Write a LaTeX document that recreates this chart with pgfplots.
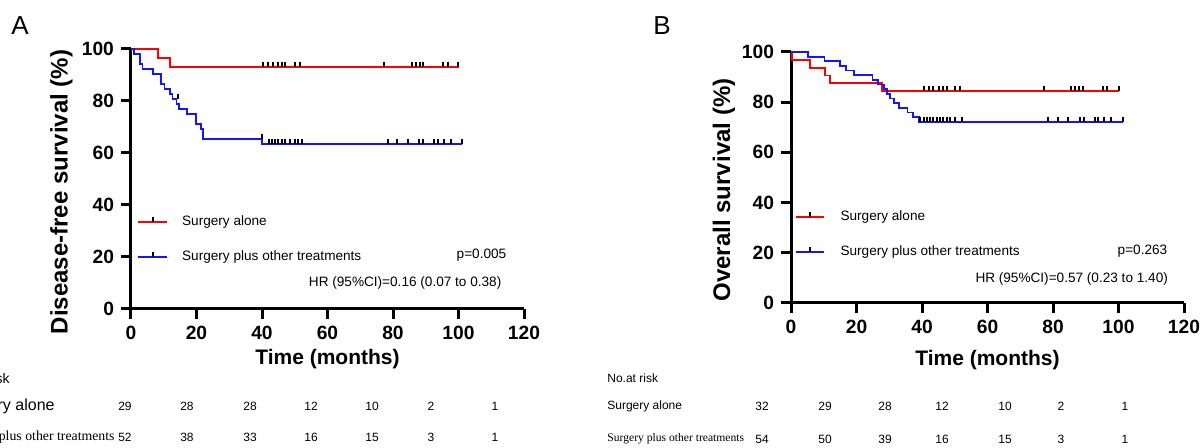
\documentclass[border=0pt]{standalone}
\usepackage{fontspec}
\setmainfont{Liberation Sans}
\newfontfamily\tnr{Liberation Serif}
\usepackage{pgfplots}
\pgfplotsset{compat=1.18}

\definecolor{kmred}{RGB}{255,0,0}
\definecolor{kmblue}{RGB}{20,20,255}

% pixel position of the reference (1200x448) -> picture coordinate
\newcommand{\pp}[2]{({(#1)*0.5pt},{(448-(#2))*0.5pt})}

\pgfplotsset{
  km/.style={
    scale only axis, anchor=south west,
    width=196.5pt,
    xmin=0, xmax=120, ymin=0, ymax=100,
    axis lines=left,
    axis line style={-, line width=1.5pt, black},
    xtick={0,20,...,120}, ytick={0,20,...,100},
    tick align=outside, major tick length=5pt,
    tick style={line width=1.5pt, black},
    tick label style={font=\fontsize{9.6}{11}\selectfont\bfseries},
    /pgf/number format/assume math mode=true,
    clip=false,
  },
  curve/.style={const plot, line width=0.9pt, mark=none},
  cens/.style={only marks, mark=|, mark size=1.25pt,
               mark options={draw=black, line width=1pt, yshift=1.25pt}},
}
\newcommand{\legfont}{\fontsize{6.8}{8}\selectfont}
\newcommand{\tabfont}{\fontsize{6}{7}\selectfont}

\begin{document}
\begin{tikzpicture}

%% ---------------- panel A: disease-free survival ----------------
\begin{axis}[km, at={(65.5pt,69.5pt)}, height=130pt]
\addplot[curve, draw=kmred] coordinates {
  (0,100)(8.3,96.55)(11.9,93.10)(100.2,93.10)
};
\addplot[curve, draw=kmblue] coordinates {
  (0,100)(1.0,98.08)(2.7,94.23)(3.5,92.31)(6.8,90.38)(9.2,86.54)
  (10.2,84.62)(11.9,82.69)(12.7,80.77)(13.9,78.85)(14.7,76.92)
  (17.0,75.00)(19.8,71.15)(21.4,69.23)(22.1,65.38)(40.1,63.46)(101.0,63.46)
};
% legend lines
\addplot[curve, draw=kmred] coordinates {(2.1,33.6)(11.1,33.6)};
\addplot[curve, draw=kmblue] coordinates {(2.1,20.1)(11.1,20.1)};
% censored
\addplot[cens] coordinates {
  (40.4,93.1)(41.9,93.1)(43.3,93.1)(45.0,93.1)(46.0,93.1)(47.0,93.1)
  (50.1,93.1)(51.6,93.1)(77.3,93.1)(85.7,93.1)(86.9,93.1)(88.1,93.1)
  (89.3,93.1)(95.4,93.1)(96.9,93.1)(99.9,93.1)
};
\addplot[cens] coordinates {
  (14.3,80.77)(39.9,65.38)
  (42,63.46)(43,63.46)(44,63.46)(45,63.46)(46,63.46)(47,63.46)(48.5,63.46)
  (50,63.46)(51,63.46)(52.1,63.46)(78.4,63.46)(81.1,63.46)(84.5,63.46)
  (88.0,63.46)(89.3,63.46)(92.5,63.46)(93.8,63.46)(95.7,63.46)(97.6,63.46)
  (101.0,63.46)
};
\addplot[cens] coordinates {(6.6,33.6)(6.6,20.1)};
\node[anchor=west, inner sep=0, font=\legfont] at (axis cs:15.5,33.6) {Surgery alone};
\node[anchor=west, inner sep=0, font=\legfont] at (axis cs:15.5,20.1) {Surgery plus other treatments};
\node[anchor=east, inner sep=0, font=\legfont] at (axis cs:114.7,20.8) {p=0.005};
\node[anchor=east, inner sep=0, font=\legfont] at (axis cs:113.2,10.1) {HR (95\%CI)=0.16 (0.07 to 0.38)};
\end{axis}

%% ---------------- panel B: overall survival ----------------
\begin{axis}[km, at={(395.5pt,72.5pt)}, height=125.5pt]
\addplot[curve, draw=kmred] coordinates {
  (0,100)(0.2,96.88)(5.7,93.75)(10.3,90.63)(11.8,87.50)(27.7,84.38)(100.0,84.38)
};
\addplot[curve, draw=kmblue] coordinates {
  (0,100)(5.3,98.15)(10.2,96.30)(15.0,94.44)(16.7,92.59)(19.2,90.74)
  (24.9,88.89)(26.5,87.04)(28.4,85.19)(29.2,83.33)(30.2,81.48)(31.5,79.63)
  (33.0,77.78)(35.6,75.93)(37.3,74.07)(39.1,72.22)(101.3,72.22)
};
\addplot[curve, draw=kmred] coordinates {(1.5,34.4)(10.2,34.4)};
\addplot[curve, draw=kmblue] coordinates {(1.5,20.4)(10.2,20.4)};
\addplot[cens] coordinates {
  (40.7,84.38)(42.2,84.38)(43.5,84.38)(45.3,84.38)(46.4,84.38)(47.5,84.38)
  (50.1,84.38)(51.6,84.38)(77.3,84.38)(85.5,84.38)(86.8,84.38)(88.0,84.38)
  (89.3,84.38)(95.2,84.38)(96.4,84.38)(100.0,84.38)
};
\addplot[cens] coordinates {
  (39.5,72.22)(40.5,72.22)(41.5,72.22)(42.5,72.22)(43.5,72.22)(44.5,72.22)
  (45.5,72.22)(46.5,72.22)(47.5,72.22)(48.5,72.22)(50.0,72.22)(52.1,72.22)
  (78.6,72.22)(81.6,72.22)(84.7,72.22)(88.2,72.22)(89.5,72.22)(92.8,72.22)
  (93.8,72.22)(95.6,72.22)(97.6,72.22)(101.3,72.22)
};
\addplot[cens] coordinates {(5.8,34.4)(5.8,20.4)};
\node[anchor=west, inner sep=0, font=\legfont] at (axis cs:15.0,34.4) {Surgery alone};
\node[anchor=west, inner sep=0, font=\legfont] at (axis cs:15.0,20.4) {Surgery plus other treatments};
\node[anchor=east, inner sep=0, font=\legfont] at (axis cs:115.0,20.7) {p=0.263};
\node[anchor=east, inner sep=0, font=\legfont] at (axis cs:115.2,9.4) {HR (95\%CI)=0.57 (0.23 to 1.40)};
\end{axis}

%% ---------------- labels ----------------
\node[font=\fontsize{13}{15}\selectfont] at \pp{20}{26} {A};
\node[font=\fontsize{13}{15}\selectfont] at \pp{662}{26} {B};
\node[rotate=90, font=\fontsize{12}{14}\selectfont\bfseries] at \pp{61.5}{192} {Disease-free survival (\%)};
\node[rotate=90, font=\fontsize{12}{14}\selectfont\bfseries] at \pp{724}{190} {Overall survival (\%)};
\node[font=\fontsize{10.5}{12}\selectfont\bfseries] at \pp{327.5}{359} {Time (months)};
\node[font=\fontsize{10.5}{12}\selectfont\bfseries] at \pp{987.5}{360} {Time (months)};

%% ---------------- numbers at risk ----------------
\begin{scope}[every node/.style={font=\tabfont, inner sep=0}]
\node[anchor=east, font=\fontsize{7}{8}\selectfont] at \pp{10}{379} {No.at risk};
\node[anchor=east, font=\fontsize{8}{9}\selectfont] at \pp{55}{406.7} {Surgery alone};
\node[anchor=east, font=\fontsize{6.9}{8}\selectfont\tnr] at \pp{115}{437.5} {Surgery plus other treatments};
\foreach \x/\a/\b in {125/29/52, 187/28/38, 250/28/33, 311/12/16, 372/10/15, 431/2/3, 495/1/1} {
  \node at \pp{\x}{406.7} {\a};
  \node at \pp{\x}{437.5} {\b};
}
\node[anchor=west] at \pp{607}{378} {No.at risk};
\node[anchor=west] at \pp{607}{406.7} {Surgery alone};
\node[anchor=west, font=\fontsize{5.8}{7}\selectfont\tnr] at \pp{607}{439} {Surgery plus other treatments};
\foreach \x/\a/\b in {762/32/54, 825/29/50, 885/28/39, 942/12/16, 1005/10/15, 1061/2/3, 1125/1/1} {
  \node at \pp{\x}{406.7} {\a};
  \node at \pp{\x}{439} {\b};
}
\end{scope}

\pgfresetboundingbox
\path[use as bounding box] (0,0) rectangle (600pt,224pt);
\end{tikzpicture}
\end{document}
